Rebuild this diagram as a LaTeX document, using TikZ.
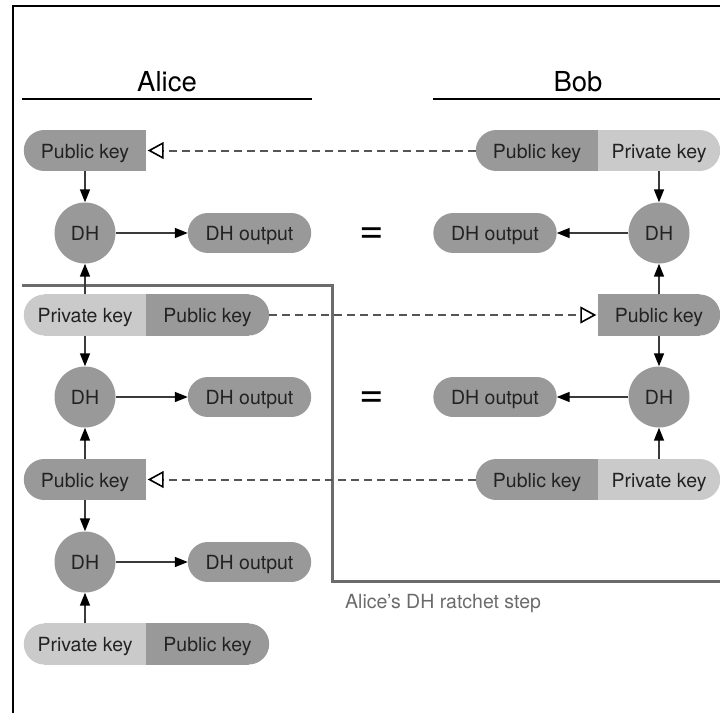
\documentclass[tikz,border=0pt]{standalone}
\usepackage{fontspec}
\setmainfont{TeX Gyre Heros}
\usetikzlibrary{arrows.meta,calc,backgrounds}
\definecolor{darkk}{HTML}{999999}
\definecolor{lightk}{HTML}{CACACA}
\definecolor{txt}{HTML}{222222}
\definecolor{conn}{HTML}{3A3A3A}
\definecolor{dashc}{HTML}{555555}
\definecolor{ratchetc}{HTML}{6B6B6B}
% left half rounded, right half rounded, both rounded
\newcommand\lpill[3]{\fill[#2] ($(#1.north west)+(#3,0)$) rectangle (#1.south east); \fill[#2] ($(#1.west)+(#3,0)$) circle[radius=#3];}
\newcommand\rpill[3]{\fill[#2] (#1.north west) rectangle ($(#1.south east)+(-#3,0)$); \fill[#2] ($(#1.east)+(-#3,0)$) circle[radius=#3];}
\newcommand\bpill[3]{\fill[#2] ($(#1.north west)+(#3,0)$) rectangle ($(#1.south east)+(-#3,0)$); \fill[#2] ($(#1.west)+(#3,0)$) circle[radius=#3]; \fill[#2] ($(#1.east)+(-#3,0)$) circle[radius=#3];}
\begin{document}
\begin{tikzpicture}[x=1pt,y=-1pt,
  lbl/.style={font=\fontsize{19.5}{22}\selectfont, text=txt, inner sep=0pt, text height=15.6pt, text depth=0pt},
  keybox/.style={lbl, minimum width=122pt, minimum height=41pt},
  outbox/.style={lbl, minimum width=123pt, minimum height=40pt},
  dhnode/.style={lbl, circle, fill=darkk, minimum size=61pt},
  titlelbl/.style={font=\fontsize{27.5}{30}\selectfont, text=black, inner sep=0pt, anchor=base},
  eqlbl/.style={font=\fontsize{42}{44}\selectfont, text=black, inner sep=0pt, anchor=base},
  caplbl/.style={font=\fontsize{19.5}{22}\selectfont, text=ratchetc, inner sep=0pt, anchor=base west},
  conn/.style={draw=conn, line width=1.6pt, -{Triangle[length=13pt,width=10pt,color=black]}},
  xfer/.style={draw=dashc, line width=2pt, dash pattern=on 8pt off 5pt,
     -{Triangle[open,length=16pt,width=17pt,line width=1.6pt,color=black]}, shorten >=1.5pt},
  rule/.style={draw=black, line width=1.8pt},
]
\useasboundingbox (0,0) rectangle (720,713);
% frame (cropped)
\draw[line width=2pt] (12.5,713) -- (12.5,6) -- (720,6);

% titles
\node[titlelbl] (alice) at (167,91.7) {Alice};
\node[titlelbl] (bob) at (578,91.7) {Bob};
\coordinate (al1) at (22,99); \coordinate (al2) at (312,99);
\coordinate (bl1) at (433,99); \coordinate (bl2) at (720,99);
\draw[rule] (al1) -- (al2);
\draw[rule] (bl1) -- (bl2);

% Alice column
\node[keybox] (ak1) at (85,150.5) {Public key};
\node[dhnode] (adh1) at (85,233) {DH};
\node[outbox] (ao1) at (249.5,233) {DH output};
\node[keybox] (ak2priv) at (85,315) {Private key};
\node[keybox, minimum width=123pt] (ak2pub) at (207.5,315) {Public key};
\node[dhnode] (adh2) at (85,397) {DH};
\node[outbox] (ao2) at (249.5,397) {DH output};
\node[keybox] (ak4) at (85,479.5) {Public key};
\node[dhnode] (adh3) at (85,562) {DH};
\node[outbox] (ao3) at (249.5,562) {DH output};
\node[keybox] (ak6priv) at (85,644) {Private key};
\node[keybox, minimum width=123pt] (ak6pub) at (207.5,644) {Public key};

% Bob column
\node[keybox] (bk1pub) at (537,150.5) {Public key};
\node[keybox] (bk1priv) at (659,150.5) {Private key};
\node[dhnode] (bdh1) at (659,233) {DH};
\node[outbox] (bo1) at (495,233) {DH output};
\node[keybox] (bk2) at (659,315) {Public key};
\node[dhnode] (bdh2) at (659,397) {DH};
\node[outbox] (bo2) at (495,397) {DH output};
\node[keybox] (bk4pub) at (537,479.5) {Public key};
\node[keybox] (bk4priv) at (659,479.5) {Private key};

% equals signs
\node[eqlbl] (eq1) at (372,243.6) {=};
\node[eqlbl] (eq2) at (372,407.6) {=};

\begin{scope}[on background layer]
  \lpill{ak1}{darkk}{20.5}
  \bpill{ao1}{darkk}{20}
  \lpill{ak2priv}{lightk}{20.5}
  \rpill{ak2pub}{darkk}{20.5}
  \bpill{ao2}{darkk}{20}
  \lpill{ak4}{darkk}{20.5}
  \bpill{ao3}{darkk}{20}
  \lpill{ak6priv}{lightk}{20.5}
  \rpill{ak6pub}{darkk}{20.5}
  \lpill{bk1pub}{darkk}{20.5}
  \rpill{bk1priv}{lightk}{20.5}
  \bpill{bo1}{darkk}{20}
  \rpill{bk2}{darkk}{20.5}
  \bpill{bo2}{darkk}{20}
  \lpill{bk4pub}{darkk}{20.5}
  \rpill{bk4priv}{lightk}{20.5}
\end{scope}

% ratchet step outline
\coordinate (r1) at (22,285);
\coordinate (r2) at (332,285);
\coordinate (r3) at (332,581.5);
\coordinate (r4) at (720,581.5);
\draw[draw=ratchetc, line width=3pt] (r1) -- (r2) -- (r3) -- (r4);
\node[caplbl] (cap) at (345,608.5) {Alice’s DH ratchet step};

% Alice connectors
\draw[conn] (ak1) -- (adh1);
\draw[conn] (adh1) -- (ao1);
\draw[conn] (ak2priv) -- (adh1);
\draw[conn] (ak2priv) -- (adh2);
\draw[conn] (adh2) -- (ao2);
\draw[conn] (ak4) -- (adh2);
\draw[conn] (ak4) -- (adh3);
\draw[conn] (adh3) -- (ao3);
\draw[conn] (ak6priv) -- (adh3);

% Bob connectors
\draw[conn] (bk1priv) -- (bdh1);
\draw[conn] (bdh1) -- (bo1);
\draw[conn] (bk2) -- (bdh1);
\draw[conn] (bk2) -- (bdh2);
\draw[conn] (bdh2) -- (bo2);
\draw[conn] (bk4priv) -- (bdh2);

% public key transfers
\draw[xfer] (bk1pub) -- (ak1);
\draw[xfer] (ak2pub) -- (bk2);
\draw[xfer] (bk4pub) -- (ak4);
\end{tikzpicture}
\end{document}
